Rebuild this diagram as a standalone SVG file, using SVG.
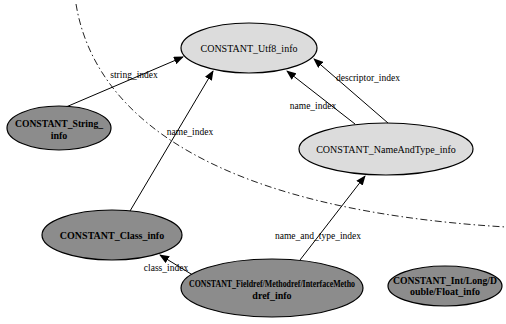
<svg xmlns="http://www.w3.org/2000/svg" width="506" height="324" viewBox="0 0 506 324">
<style>
.light{fill:#dcdcdc;stroke:#000;stroke-width:1.2}
.dark{fill:#8c8c8c;stroke:#000;stroke-width:1.2}
.nt{font-family:"Liberation Serif",serif;font-size:10px;text-anchor:middle;fill:#000}
.bt{font-family:"Liberation Serif",serif;font-size:10px;font-weight:bold;text-anchor:middle;fill:#000}
.el{font-family:"Liberation Serif",serif;font-size:9.5px;text-anchor:middle;fill:#000}
.edge{stroke:#000;stroke-width:1;fill:none;marker-end:url(#arr)}
.arc{stroke:#222;stroke-width:1;fill:none;stroke-dasharray:7 3 1.5 3}
</style>
<defs>
<marker id="arr" markerWidth="10" markerHeight="8" refX="9" refY="4" orient="auto" markerUnits="userSpaceOnUse">
<path d="M0,0 L10,4 L0,8 Z" fill="#000"/>
</marker>
</defs>
<path class="arc" d="M 76 4 C 95 120, 220 210, 506 227"/>
<g id="connectors">
<line class="edge" x1="66" y1="107" x2="183" y2="57"/>
<line class="edge" x1="130" y1="211" x2="213" y2="71"/>
<line class="edge" x1="355" y1="124" x2="287" y2="71"/>
<line class="edge" x1="388" y1="123" x2="314" y2="59"/>
<line class="edge" x1="300" y1="260" x2="365" y2="176"/>
<line class="edge" x1="196" y1="277" x2="160" y2="255"/>
<text class="el" x="134" y="78">string_index</text>
<text class="el" x="190" y="135">name_index</text>
<text class="el" x="313" y="109">name_index</text>
<text class="el" x="368" y="81">descriptor_index</text>
<text class="el" x="318" y="239">name_and_type_index</text>
<text class="el" x="166" y="271">class_index</text>
</g>
<g id="utf8">
<ellipse class="light" cx="249" cy="48" rx="68" ry="25"/>
<text class="nt" x="249" y="52">CONSTANT_Utf8_info</text>
</g>
<g id="string">
<ellipse class="dark" cx="59" cy="128" rx="52" ry="22"/>
<text class="bt" x="59" y="127" textLength="88" lengthAdjust="spacingAndGlyphs">CONSTANT_String_</text>
<text class="bt" x="59" y="139">info</text>
</g>
<g id="nameandtype">
<ellipse class="light" cx="386" cy="149" rx="87" ry="26"/>
<text class="nt" x="386" y="153">CONSTANT_NameAndType_info</text>
</g>
<g id="class">
<ellipse class="dark" cx="112" cy="235" rx="70" ry="25"/>
<text class="bt" x="112" y="239">CONSTANT_Class_info</text>
</g>
<g id="fieldref">
<ellipse class="dark" cx="272" cy="288" rx="91" ry="29"/>
<text class="bt" x="272" y="287" textLength="166" lengthAdjust="spacingAndGlyphs">CONSTANT_Fieldref/Methodref/InterfaceMetho</text>
<text class="bt" x="272" y="299">dref_info</text>
</g>
<g id="intlong">
<ellipse class="dark" cx="445" cy="286" rx="57" ry="20"/>
<text class="bt" x="445" y="284" textLength="104" lengthAdjust="spacingAndGlyphs">CONSTANT_Int/Long/D</text>
<text class="bt" x="445" y="295" font-size="9.5">ouble/Float_info</text>
</g>
</svg>
